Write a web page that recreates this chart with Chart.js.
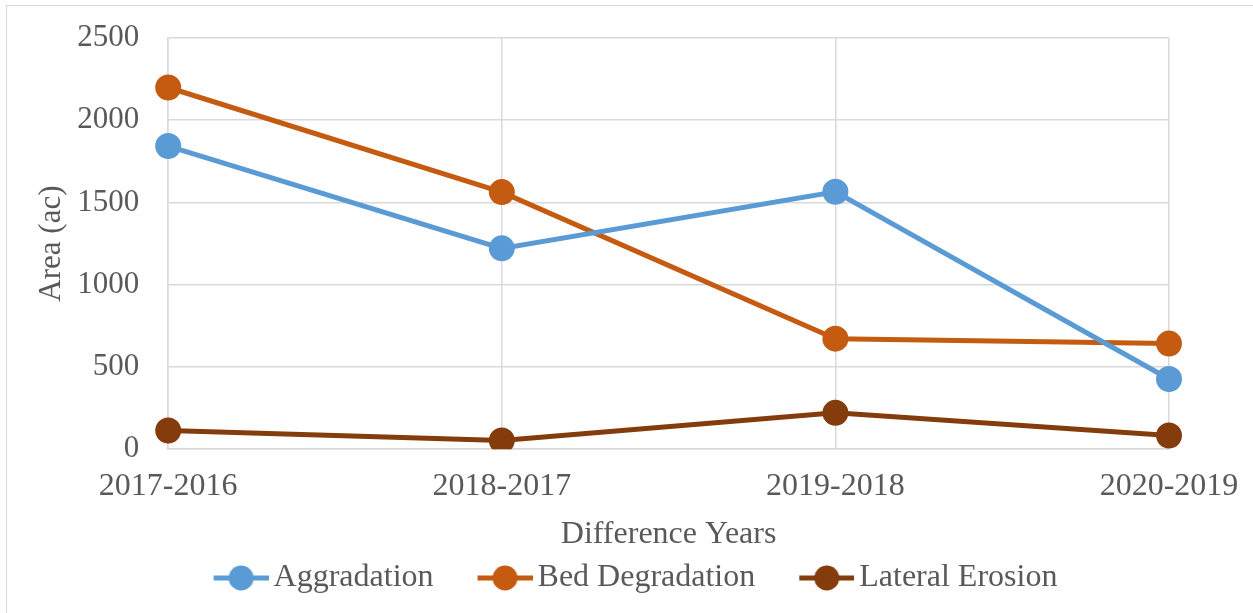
<!DOCTYPE html>
<html>
<head>
<meta charset="utf-8">
<script src="https://cdn.jsdelivr.net/npm/chart.js@4/dist/chart.umd.min.js"></script>
<style>
  html, body { margin: 0; padding: 0; background: #fff; }
  #wrap { position: relative; width: 1253px; height: 613px; overflow: hidden; }
  #frame { position: absolute; left: 6px; top: 5px; width: 1300px; height: 700px; border: 1px solid #d9d9d9; box-sizing: border-box; }
  #c { position: absolute; left: 0; top: 0; }
</style>
</head>
<body>
<div id="wrap">
  <div id="frame"></div>
  <canvas id="c" width="1253" height="613"></canvas>
</div>
<script>
const categories = ['2017-2016', '2018-2017', '2019-2018', '2020-2019'];
const aggradation = [1843, 1221, 1565, 427];
const bedDegradation = [2199, 1563, 672, 642];
const lateralErosion = [114, 53, 221, 83];
const yTicks = [0, 500, 1000, 1500, 2000, 2500];

const FONT = '"Liberation Serif", "Times New Roman", serif';
const TXT = '#595959';

// legend swatch: line with a dot, placed at the right part of a wider transparent canvas
function legendSymbol(color) {
  const c = document.createElement('canvas');
  c.width = 102; c.height = 32;
  const g = c.getContext('2d');
  g.strokeStyle = color; g.lineWidth = 5;
  g.beginPath(); g.moveTo(47, 16); g.lineTo(102, 16); g.stroke();
  g.fillStyle = color;
  g.beginPath(); g.arc(74.5, 16, 12.5, 0, Math.PI * 2); g.fill();
  return c;
}

const seriesDefs = [
  { label: 'Aggradation', data: aggradation, color: '#5B9BD5' },
  { label: 'Bed Degradation', data: bedDegradation, color: '#C55A11' },
  { label: 'Lateral Erosion', data: lateralErosion, color: '#843C0C' }
];

new Chart(document.getElementById('c'), {
  type: 'line',
  data: {
    labels: categories,
    datasets: seriesDefs.map(s => ({
      label: s.label,
      data: s.data,
      borderColor: s.color,
      backgroundColor: s.color,
      borderWidth: 5,
      pointStyle: 'circle',
      pointRadius: 12,
      pointHoverRadius: 12,
      pointBorderWidth: 2,
      pointBackgroundColor: s.color,
      pointBorderColor: s.color,
      tension: 0,
      fill: false
    }))
  },
  options: {
    responsive: false,
    animation: false,
    layout: { padding: { left: 66, right: 84, top: 38, bottom: 9 } },
    plugins: {
      tooltip: { enabled: false },
      legend: {
        position: 'bottom',
        labels: {
          usePointStyle: true,
          pointStyleWidth: 80,
          padding: 8,
          color: TXT,
          font: { family: FONT, size: 32 },
          generateLabels(chart) {
            return chart.data.datasets.map((ds, i) => ({
              text: ds.label,
              fillStyle: ds.borderColor,
              strokeStyle: ds.borderColor,
              lineWidth: 0,
              pointStyle: legendSymbol(ds.borderColor),
              datasetIndex: i,
              hidden: false,
              fontColor: TXT
            }));
          }
        }
      }
    },
    scales: {
      x: {
        offset: false,
        afterFit(scale) { scale.paddingRight = 0; },
        grid: { color: '#d9d9d9', lineWidth: 1.5, drawTicks: false },
        border: { color: '#d9d9d9', width: 1.5 },
        ticks: { color: TXT, font: { family: FONT, size: 32 }, padding: 18, maxRotation: 0, autoSkip: false },
        title: { display: true, text: 'Difference Years', color: TXT, font: { family: FONT, size: 32 }, padding: { top: -8, bottom: 0 } }
      },
      y: {
        min: 0,
        max: 2500,
        afterBuildTicks(axis) { axis.ticks = yTicks.map(v => ({ value: v })); },
        afterFit(scale) { scale.paddingTop = 0; },
        grid: { color: '#d9d9d9', lineWidth: 1.5, drawTicks: false },
        border: { color: '#d9d9d9', width: 1.5 },
        ticks: { color: TXT, font: { family: FONT, size: 31 }, padding: 29, callback: v => String(v) },
        title: { display: true, text: 'Area (ac)', color: TXT, font: { family: FONT, size: 31 }, padding: { top: -33, bottom: -22 } }
      }
    }
  }
});
</script>
</body>
</html>
